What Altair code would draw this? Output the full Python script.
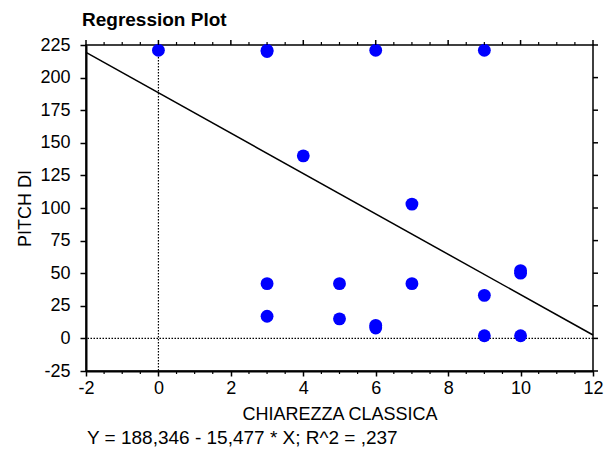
import altair as alt
import pandas as pd

# ---- data ----
x_vals = [0, 3, 3, 6, 9, 4, 7, 3, 5, 7, 9, 10, 10, 3, 5, 6, 6, 9, 10]
y_vals = [221, 221, 220, 221, 221, 140, 103, 42, 42, 42, 33, 52, 50, 17, 15, 8, 10, 2, 2]

line_x = [-2, 12]
line_y = [219.3, 2.6]

x_major = [-2, 0, 2, 4, 6, 8, 10, 12]
x_minor = [-1.5, -1, -0.5, 0.5, 1, 1.5, 2.5, 3, 3.5, 4.5, 5, 5.5,
           6.5, 7, 7.5, 8.5, 9, 9.5, 10.5, 11, 11.5]
y_major = [-25, 0, 25, 50, 75, 100, 125, 150, 175, 200, 225]

title_text = "Regression Plot"
x_title = "CHIAREZZA CLASSICA"
y_title = "PITCH DI"
footer_text = "Y = 188,346 - 15,477 * X; R^2 = ,237"

# ---- layout ----
W, H = 507, 326
FONT = "Liberation Sans"

xs = alt.Scale(domain=[-2, 12], nice=False, zero=False)
ys = alt.Scale(domain=[-25, 225], nice=False, zero=False)

neg_label = "datum.value < 0 ? '-' + abs(datum.value) : '' + datum.value"

ax_x = alt.Axis(values=x_major, title=x_title, labelExpr=neg_label, labelFlush=False,
                tickSize=5, labelPadding=3, titlePadding=8)
ax_y = alt.Axis(values=y_major, title=y_title, labelExpr=neg_label, labelFlush=False,
                tickSize=6, labelPadding=10, titlePadding=5)


def X(field="x"):
    return alt.X(f"{field}:Q", scale=xs, axis=ax_x)


def Y(field="y"):
    return alt.Y(f"{field}:Q", scale=ys, axis=ax_y)


pts = pd.DataFrame({"x": x_vals, "y": y_vals})
reg = pd.DataFrame({"x": line_x, "y": line_y})

points = alt.Chart(pts).mark_circle(size=165, color="#0000FF", opacity=1).encode(
    x=X(), y=Y())

reg_line = alt.Chart(reg).mark_line(color="black", strokeWidth=1.5).encode(
    x=X(), y=Y())

vzero = alt.Chart(pd.DataFrame({"x": [0]})).mark_rule(
    color="black", strokeWidth=1.2, strokeDash=[1.5, 1.5]).encode(x=X())

hzero = alt.Chart(pd.DataFrame({"y": [0]})).mark_rule(
    color="black", strokeWidth=1.2, strokeDash=[1.5, 1.5]).encode(y=Y())

xmaj_df = pd.DataFrame({"x": x_major})
xmin_df = pd.DataFrame({"x": x_minor})
ymaj_df = pd.DataFrame({"y": y_major})

top_major = alt.Chart(xmaj_df).mark_rule(color="black", strokeWidth=1.5).encode(
    x=X(), y=alt.value(0), y2=alt.value(-5))
top_minor = alt.Chart(xmin_df).mark_rule(color="black", strokeWidth=1.2).encode(
    x=X(), y=alt.value(0), y2=alt.value(-3))
bot_minor = alt.Chart(xmin_df).mark_rule(color="black", strokeWidth=1.2).encode(
    x=X(), y=alt.value(H), y2=alt.value(H + 3))
right_major = alt.Chart(ymaj_df).mark_rule(color="black", strokeWidth=1.5).encode(
    y=Y(), x=alt.value(W), x2=alt.value(W + 5))

footer = alt.Chart(pd.DataFrame({"t": [footer_text]})).mark_text(
    align="left", baseline="middle", fontSize=19, font=FONT, color="black").encode(
    text="t:N", x=alt.value(1), y=alt.value(H + 67))

chart = alt.layer(
    hzero, vzero, reg_line, points, top_major, top_minor, bot_minor, right_major, footer
).properties(
    width=W, height=H,
    title=alt.TitleParams(title_text, anchor="start", frame="group", font=FONT, fontSize=19,
                          fontWeight="bold", color="black", dx=-4, offset=6),
    padding={"left": 86, "top": 45, "right": 21, "bottom": 83},
    autosize=alt.AutoSizeParams(type="none"),
).configure_view(
    stroke="black", strokeWidth=1.5
).configure_axis(
    grid=False, domainColor="black", domainWidth=2, tickColor="black", tickWidth=1.5,
    labelColor="black", titleColor="black", labelFont=FONT, titleFont=FONT,
    labelFontSize=18, titleFontSize=18, titleFontWeight="normal"
)

chart.save("out.html", embed_options={"renderer": "svg", "actions": False})
